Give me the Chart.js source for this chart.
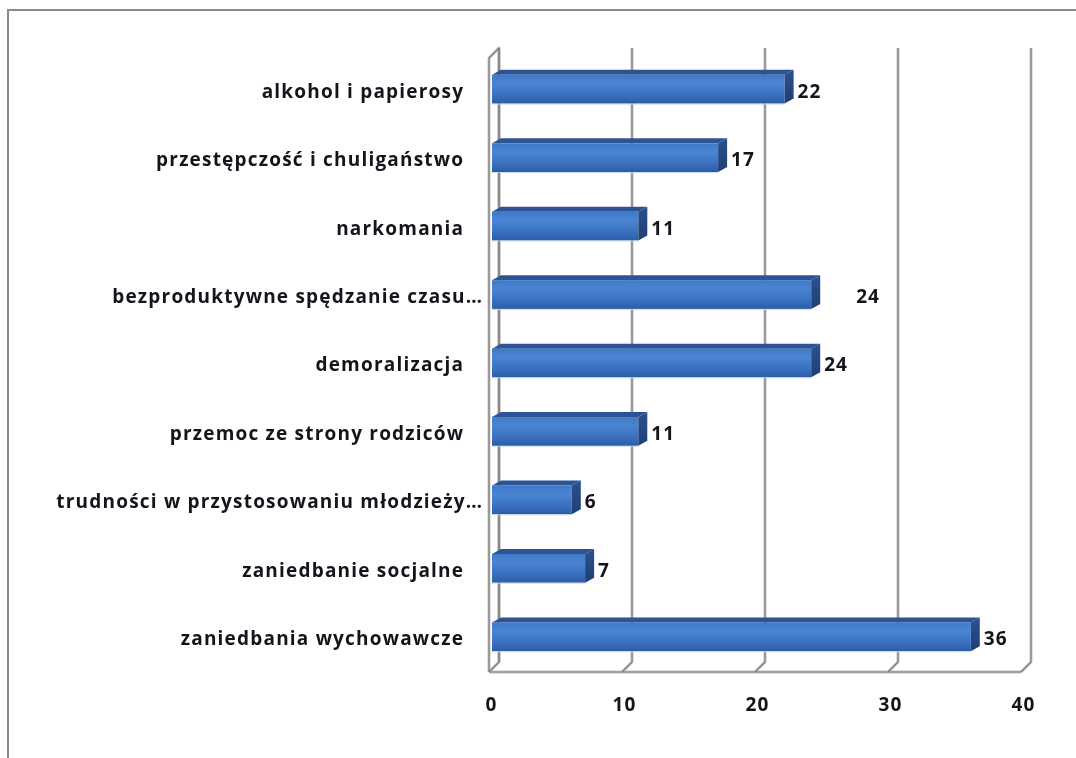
<!DOCTYPE html>
<html>
<head>
<meta charset="utf-8">
<script src="https://cdn.jsdelivr.net/npm/chart.js@4/dist/chart.umd.min.js"></script>
<style>
  html, body { margin: 0; padding: 0; background: #ffffff; }
  #wrap { width: 1076px; height: 758px; }
</style>
</head>
<body>
<div id="wrap"><canvas id="c" width="1076" height="758"></canvas></div>
<script>
const categories = [
  'alkohol i papierosy',
  'przestępczość i chuligaństwo',
  'narkomania',
  'bezproduktywne spędzanie czasu…',
  'demoralizacja',
  'przemoc ze strony rodziców',
  'trudności w przystosowaniu młodzieży…',
  'zaniedbanie socjalne',
  'zaniedbania wychowawcze'
];
const values = [22, 17, 11, 24, 24, 11, 6, 7, 36];
const xTicks = [0, 10, 20, 30, 40];

const FONT = "'Open Sans', 'Liberation Sans', sans-serif";
const TEXT = '#14141c';

function spacedText(ctx, str, x, y, align, spacing) {
  ctx.save();
  ctx.font = "bold 19px " + FONT;
  ctx.fillStyle = TEXT;
  ctx.textBaseline = 'middle';
  ctx.textAlign = 'left';
  if ('letterSpacing' in ctx) ctx.letterSpacing = spacing + 'px';
  const w = ctx.measureText(str).width - spacing;
  let sx = x;
  if (align === 'right') sx = x - w;
  else if (align === 'center') sx = x - w / 2;
  ctx.fillText(str, sx, y);
  ctx.restore();
}

const frame3d = {
  id: 'frame3d',
  beforeDraw(chart) {
    const ctx = chart.ctx;
    ctx.save();
    ctx.fillStyle = '#ffffff';
    ctx.fillRect(0, 0, chart.width, chart.height);
    ctx.strokeStyle = '#8a8a8a';
    ctx.lineWidth = 2;
    ctx.beginPath();
    ctx.moveTo(1076, 10); ctx.lineTo(8, 10); ctx.lineTo(8, 758);
    ctx.stroke();
    ctx.restore();
  },
  beforeDatasetsDraw(chart) {
    const ctx = chart.ctx, xs = chart.scales.x, ys = chart.scales.y, ca = chart.chartArea;
    const fx = -3, bx = 7, depth = 10;
    const backTop = ca.top - 7, frontBottom = ca.bottom + 1, backBottom = frontBottom - depth;
    const lines = (w, c) => {
      ctx.strokeStyle = c; ctx.lineWidth = w;
      const p0 = xs.getPixelForValue(xTicks[0]);
      ctx.beginPath();
      ctx.moveTo(p0 + fx, frontBottom); ctx.lineTo(p0 + fx, backTop + depth);
      ctx.lineTo(p0 + bx, backTop); ctx.lineTo(p0 + bx, backBottom);
      ctx.stroke();
      xTicks.forEach((t) => {
        const p = xs.getPixelForValue(t);
        ctx.beginPath();
        ctx.moveTo(p + bx, backTop); ctx.lineTo(p + bx, backBottom);
        ctx.lineTo(p + fx, frontBottom);
        ctx.stroke();
      });
      const pl = xs.getPixelForValue(xTicks[xTicks.length - 1]);
      ctx.beginPath();
      ctx.moveTo(p0 + fx, frontBottom); ctx.lineTo(pl + fx, frontBottom);
      ctx.stroke();
    };
    ctx.save();
    ctx.lineJoin = 'round';
    lines(3, '#c4c4c4');
    lines(1.2, '#7e7e7e');
    ctx.restore();

    categories.forEach((lab, i) => {
      const y = ys.getPixelForValue(i);
      const right = lab.endsWith('…') ? ca.left - 10 : ca.left - 29;
      spacedText(ctx, lab, right, y + 3, 'right', 1.2);
    });
    xTicks.forEach((t) => {
      spacedText(ctx, String(t), xs.getPixelForValue(t) - 1, ca.bottom + 35, 'center', 1.2);
    });
  },
  afterDatasetsDraw(chart) {
    const ctx = chart.ctx;
    const meta = chart.getDatasetMeta(0);
    const dx = 9, dy = 5;
    const shifts = chart.options.plugins.frame3d.labelShift;
    ctx.save();
    meta.data.forEach((el, i) => {
      const top = el.y - el.height / 2, bot = el.y + el.height / 2;
      const x0 = el.base, x1 = el.x;
      ctx.fillStyle = '#2c5394';
      ctx.beginPath();
      ctx.moveTo(x0, top); ctx.lineTo(x0 + dx, top - dy);
      ctx.lineTo(x1 + dx, top - dy); ctx.lineTo(x1, top); ctx.closePath();
      ctx.fill();
      const g = ctx.createLinearGradient(0, top, 0, bot);
      g.addColorStop(0, '#3f78c6');
      g.addColorStop(0.3, '#4a85d3');
      g.addColorStop(0.7, '#3a70bf');
      g.addColorStop(1, '#2c5ca5');
      ctx.fillStyle = g;
      ctx.fillRect(x0, top, x1 - x0, bot - top);
      ctx.fillStyle = 'rgba(200,215,238,0.9)';
      ctx.fillRect(x0, bot, x1 - x0, 1);
      const gs = ctx.createLinearGradient(0, top - dy, 0, bot);
      gs.addColorStop(0, '#2b5190');
      gs.addColorStop(1, '#1f3f73');
      ctx.fillStyle = gs;
      ctx.beginPath();
      ctx.moveTo(x1, top); ctx.lineTo(x1 + dx, top - dy);
      ctx.lineTo(x1 + dx, bot - dy); ctx.lineTo(x1, bot); ctx.closePath();
      ctx.fill();
    });
    ctx.restore();
    meta.data.forEach((el, i) => {
      spacedText(ctx, String(values[i]), el.x + dx + 4 + (shifts[i] || 0), el.y + 3, 'left', 1);
    });
  }
};

new Chart(document.getElementById('c'), {
  type: 'bar',
  data: {
    labels: categories,
    datasets: [{
      data: values,
      backgroundColor: 'rgba(0,0,0,0)',
      borderWidth: 0,
      barPercentage: 0.42,
      categoryPercentage: 1
    }]
  },
  options: {
    indexAxis: 'y',
    responsive: false,
    animation: false,
    layout: { padding: { top: 55, right: 52, left: 0, bottom: 0 } },
    plugins: {
      legend: { display: false },
      tooltip: { enabled: false },
      frame3d: { labelShift: { 3: 32 } }
    },
    scales: {
      x: {
        min: 0, max: 40,
        afterBuildTicks(s) { s.ticks = xTicks.map(v => ({ value: v })); },
        afterFit(s) { s.height = 87; },
        grid: { display: false, drawTicks: false },
        border: { display: false },
        ticks: { display: false }
      },
      y: {
        afterFit(s) { s.width = 492; },
        grid: { display: false, drawTicks: false },
        border: { display: false },
        ticks: { display: false, autoSkip: false }
      }
    }
  },
  plugins: [frame3d]
});
</script>
</body>
</html>
